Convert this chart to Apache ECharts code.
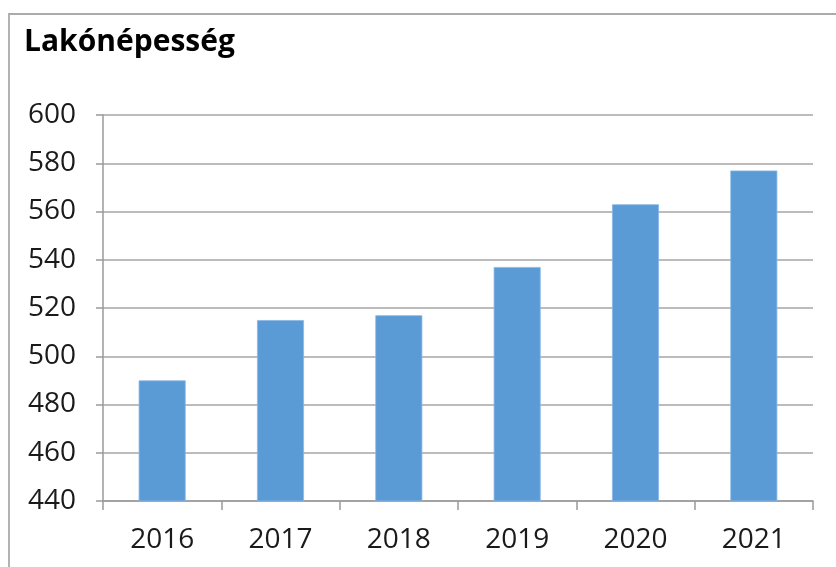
<!DOCTYPE html>
<html>
<head>
<meta charset="utf-8">
<script src="https://cdn.jsdelivr.net/npm/echarts@6/dist/echarts.min.js"></script>
<style>
html,body{margin:0;padding:0;background:#fff;}
#chart{width:836px;height:567px;}
</style>
</head>
<body>
<div id="chart"></div>
<script>
const titleText = "Lakónépesség";
const categories = ["2016", "2017", "2018", "2019", "2020", "2021"];
const values = [490, 515, 517, 537, 563, 577];
const yMin = 440, yMax = 600, yStep = 20;

const chart = echarts.init(document.getElementById('chart'));
const font = '"Open Sans", "Noto Sans", sans-serif';
chart.setOption({
  backgroundColor: '#ffffff',
  animation: false,
  title: {
    text: titleText,
    left: 19,
    top: 22,
    textStyle: {fontFamily: font, fontWeight: 'bold', fontSize: 30, color: '#000000'}
  },
  graphic: [{
    type: 'rect',
    shape: {x: 9, y: 14, width: 840, height: 600},
    style: {fill: 'none', stroke: '#ababab', lineWidth: 1.8},
    silent: true
  }],
  grid: {left: 103, right: 23, top: 115, bottom: 66, containLabel: false},
  xAxis: {
    type: 'category',
    data: categories,
    axisLine: {lineStyle: {color: '#9a9a9a', width: 1.5}},
    axisTick: {show: true, length: 9, lineStyle: {color: '#9a9a9a', width: 1.5}},
    axisLabel: {fontFamily: font, fontSize: 28, color: '#1a1a1a', margin: 25}
  },
  yAxis: {
    type: 'value',
    min: yMin, max: yMax, interval: yStep,
    axisLine: {show: true, lineStyle: {color: '#9a9a9a', width: 1.5}},
    axisTick: {show: true, length: 7, lineStyle: {color: '#9a9a9a', width: 1.5}},
    axisLabel: {fontFamily: font, fontSize: 28, color: '#1a1a1a', margin: 27},
    splitLine: {lineStyle: {color: '#a6a6a6', width: 1.5}}
  },
  series: [{
    type: 'bar',
    data: values,
    barWidth: 47,
    itemStyle: {color: '#5b9bd5', borderColor: '#8ab8e6', borderWidth: 0.8}
  }]
});
</script>
</body>
</html>
